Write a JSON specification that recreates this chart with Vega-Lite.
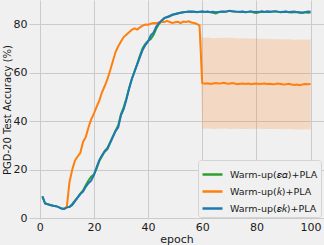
{
  "$schema": "https://vega.github.io/schema/vega-lite/v6.json",
  "width": 295,
  "height": 219,
  "autosize": {"type": "none"},
  "padding": {"left": 29, "top": 0, "right": 0, "bottom": 26},
  "background": "#f0f0f0",
  "config": {
    "view": {"stroke": null, "fill": "#f0f0f0"},
    "font": "DejaVu Sans",
    "axis": {
      "domain": false,
      "ticks": false,
      "grid": true,
      "gridColor": "#cbcbcb",
      "gridWidth": 1,
      "labelFontSize": 11,
      "labelColor": "#1a1a1a",
      "titleFontSize": 11,
      "titleFontWeight": "normal",
      "titleColor": "#1a1a1a"
    }
  },
  "datasets": {
    "lines": [
      {"epoch":1,"series":"Warm-up(𝜀𝛼)+PLA","acc":9.0},{"epoch":2,"series":"Warm-up(𝜀𝛼)+PLA","acc":6.0},{"epoch":3,"series":"Warm-up(𝜀𝛼)+PLA","acc":5.8},{"epoch":4,"series":"Warm-up(𝜀𝛼)+PLA","acc":5.4},{"epoch":5,"series":"Warm-up(𝜀𝛼)+PLA","acc":5.2},{"epoch":6,"series":"Warm-up(𝜀𝛼)+PLA","acc":5.0},{"epoch":7,"series":"Warm-up(𝜀𝛼)+PLA","acc":4.6},{"epoch":8,"series":"Warm-up(𝜀𝛼)+PLA","acc":4.0},{"epoch":9,"series":"Warm-up(𝜀𝛼)+PLA","acc":3.9},{"epoch":10,"series":"Warm-up(𝜀𝛼)+PLA","acc":4.6},{"epoch":11,"series":"Warm-up(𝜀𝛼)+PLA","acc":4.8},{"epoch":12,"series":"Warm-up(𝜀𝛼)+PLA","acc":5.8},{"epoch":13,"series":"Warm-up(𝜀𝛼)+PLA","acc":7.3},{"epoch":14,"series":"Warm-up(𝜀𝛼)+PLA","acc":8.6},{"epoch":15,"series":"Warm-up(𝜀𝛼)+PLA","acc":10.2},{"epoch":16,"series":"Warm-up(𝜀𝛼)+PLA","acc":11.5},{"epoch":17,"series":"Warm-up(𝜀𝛼)+PLA","acc":13.6},{"epoch":18,"series":"Warm-up(𝜀𝛼)+PLA","acc":15.6},{"epoch":19,"series":"Warm-up(𝜀𝛼)+PLA","acc":17.2},{"epoch":20,"series":"Warm-up(𝜀𝛼)+PLA","acc":18.0},{"epoch":21,"series":"Warm-up(𝜀𝛼)+PLA","acc":20.5},{"epoch":22,"series":"Warm-up(𝜀𝛼)+PLA","acc":23.6},{"epoch":23,"series":"Warm-up(𝜀𝛼)+PLA","acc":25.6},{"epoch":24,"series":"Warm-up(𝜀𝛼)+PLA","acc":27.8},{"epoch":25,"series":"Warm-up(𝜀𝛼)+PLA","acc":29.0},{"epoch":26,"series":"Warm-up(𝜀𝛼)+PLA","acc":31.4},{"epoch":27,"series":"Warm-up(𝜀𝛼)+PLA","acc":33.8},{"epoch":28,"series":"Warm-up(𝜀𝛼)+PLA","acc":36.2},{"epoch":29,"series":"Warm-up(𝜀𝛼)+PLA","acc":38.4},{"epoch":30,"series":"Warm-up(𝜀𝛼)+PLA","acc":43.0},{"epoch":31,"series":"Warm-up(𝜀𝛼)+PLA","acc":45.8},{"epoch":32,"series":"Warm-up(𝜀𝛼)+PLA","acc":49.4},{"epoch":33,"series":"Warm-up(𝜀𝛼)+PLA","acc":53.8},{"epoch":34,"series":"Warm-up(𝜀𝛼)+PLA","acc":57.4},{"epoch":35,"series":"Warm-up(𝜀𝛼)+PLA","acc":60.6},{"epoch":36,"series":"Warm-up(𝜀𝛼)+PLA","acc":63.8},{"epoch":37,"series":"Warm-up(𝜀𝛼)+PLA","acc":67.2},{"epoch":38,"series":"Warm-up(𝜀𝛼)+PLA","acc":70.2},{"epoch":39,"series":"Warm-up(𝜀𝛼)+PLA","acc":72.0},{"epoch":40,"series":"Warm-up(𝜀𝛼)+PLA","acc":73.2},{"epoch":41,"series":"Warm-up(𝜀𝛼)+PLA","acc":74.0},{"epoch":42,"series":"Warm-up(𝜀𝛼)+PLA","acc":75.6},{"epoch":43,"series":"Warm-up(𝜀𝛼)+PLA","acc":78.2},{"epoch":44,"series":"Warm-up(𝜀𝛼)+PLA","acc":80.2},{"epoch":45,"series":"Warm-up(𝜀𝛼)+PLA","acc":81.4},{"epoch":46,"series":"Warm-up(𝜀𝛼)+PLA","acc":82.6},{"epoch":47,"series":"Warm-up(𝜀𝛼)+PLA","acc":83.0},{"epoch":48,"series":"Warm-up(𝜀𝛼)+PLA","acc":83.4},{"epoch":49,"series":"Warm-up(𝜀𝛼)+PLA","acc":84.0},{"epoch":50,"series":"Warm-up(𝜀𝛼)+PLA","acc":84.2},{"epoch":51,"series":"Warm-up(𝜀𝛼)+PLA","acc":84.5},{"epoch":52,"series":"Warm-up(𝜀𝛼)+PLA","acc":84.8},{"epoch":53,"series":"Warm-up(𝜀𝛼)+PLA","acc":85.0},{"epoch":54,"series":"Warm-up(𝜀𝛼)+PLA","acc":85.1},{"epoch":55,"series":"Warm-up(𝜀𝛼)+PLA","acc":85.2},{"epoch":56,"series":"Warm-up(𝜀𝛼)+PLA","acc":85.3},{"epoch":57,"series":"Warm-up(𝜀𝛼)+PLA","acc":85.2},{"epoch":58,"series":"Warm-up(𝜀𝛼)+PLA","acc":85.0},{"epoch":59,"series":"Warm-up(𝜀𝛼)+PLA","acc":85.2},{"epoch":60,"series":"Warm-up(𝜀𝛼)+PLA","acc":85.3},{"epoch":61,"series":"Warm-up(𝜀𝛼)+PLA","acc":85.1},{"epoch":62,"series":"Warm-up(𝜀𝛼)+PLA","acc":85.2},{"epoch":63,"series":"Warm-up(𝜀𝛼)+PLA","acc":85.0},{"epoch":64,"series":"Warm-up(𝜀𝛼)+PLA","acc":84.8},{"epoch":65,"series":"Warm-up(𝜀𝛼)+PLA","acc":84.5},{"epoch":66,"series":"Warm-up(𝜀𝛼)+PLA","acc":85.0},{"epoch":67,"series":"Warm-up(𝜀𝛼)+PLA","acc":85.2},{"epoch":68,"series":"Warm-up(𝜀𝛼)+PLA","acc":85.4},{"epoch":69,"series":"Warm-up(𝜀𝛼)+PLA","acc":85.3},{"epoch":70,"series":"Warm-up(𝜀𝛼)+PLA","acc":85.6},{"epoch":71,"series":"Warm-up(𝜀𝛼)+PLA","acc":85.5},{"epoch":72,"series":"Warm-up(𝜀𝛼)+PLA","acc":85.3},{"epoch":73,"series":"Warm-up(𝜀𝛼)+PLA","acc":85.2},{"epoch":74,"series":"Warm-up(𝜀𝛼)+PLA","acc":85.1},{"epoch":75,"series":"Warm-up(𝜀𝛼)+PLA","acc":85.2},{"epoch":76,"series":"Warm-up(𝜀𝛼)+PLA","acc":85.0},{"epoch":77,"series":"Warm-up(𝜀𝛼)+PLA","acc":85.2},{"epoch":78,"series":"Warm-up(𝜀𝛼)+PLA","acc":85.3},{"epoch":79,"series":"Warm-up(𝜀𝛼)+PLA","acc":84.9},{"epoch":80,"series":"Warm-up(𝜀𝛼)+PLA","acc":84.7},{"epoch":81,"series":"Warm-up(𝜀𝛼)+PLA","acc":85.0},{"epoch":82,"series":"Warm-up(𝜀𝛼)+PLA","acc":85.2},{"epoch":83,"series":"Warm-up(𝜀𝛼)+PLA","acc":85.1},{"epoch":84,"series":"Warm-up(𝜀𝛼)+PLA","acc":85.3},{"epoch":85,"series":"Warm-up(𝜀𝛼)+PLA","acc":85.2},{"epoch":86,"series":"Warm-up(𝜀𝛼)+PLA","acc":85.4},{"epoch":87,"series":"Warm-up(𝜀𝛼)+PLA","acc":85.5},{"epoch":88,"series":"Warm-up(𝜀𝛼)+PLA","acc":85.2},{"epoch":89,"series":"Warm-up(𝜀𝛼)+PLA","acc":85.0},{"epoch":90,"series":"Warm-up(𝜀𝛼)+PLA","acc":85.1},{"epoch":91,"series":"Warm-up(𝜀𝛼)+PLA","acc":85.2},{"epoch":92,"series":"Warm-up(𝜀𝛼)+PLA","acc":85.0},{"epoch":93,"series":"Warm-up(𝜀𝛼)+PLA","acc":84.9},{"epoch":94,"series":"Warm-up(𝜀𝛼)+PLA","acc":85.1},{"epoch":95,"series":"Warm-up(𝜀𝛼)+PLA","acc":85.0},{"epoch":96,"series":"Warm-up(𝜀𝛼)+PLA","acc":84.8},{"epoch":97,"series":"Warm-up(𝜀𝛼)+PLA","acc":84.7},{"epoch":98,"series":"Warm-up(𝜀𝛼)+PLA","acc":85.0},{"epoch":99,"series":"Warm-up(𝜀𝛼)+PLA","acc":84.8},{"epoch":100,"series":"Warm-up(𝜀𝛼)+PLA","acc":84.9},

      {"epoch":9,"series":"Warm-up(𝑘)+PLA","acc":3.9},{"epoch":10,"series":"Warm-up(𝑘)+PLA","acc":4.6},{"epoch":11,"series":"Warm-up(𝑘)+PLA","acc":15.0},{"epoch":12,"series":"Warm-up(𝑘)+PLA","acc":20.0},{"epoch":13,"series":"Warm-up(𝑘)+PLA","acc":23.8},{"epoch":14,"series":"Warm-up(𝑘)+PLA","acc":25.5},{"epoch":15,"series":"Warm-up(𝑘)+PLA","acc":27.0},{"epoch":16,"series":"Warm-up(𝑘)+PLA","acc":31.5},{"epoch":17,"series":"Warm-up(𝑘)+PLA","acc":33.5},{"epoch":18,"series":"Warm-up(𝑘)+PLA","acc":37.5},{"epoch":19,"series":"Warm-up(𝑘)+PLA","acc":40.8},{"epoch":20,"series":"Warm-up(𝑘)+PLA","acc":43.2},{"epoch":21,"series":"Warm-up(𝑘)+PLA","acc":46.0},{"epoch":22,"series":"Warm-up(𝑘)+PLA","acc":48.6},{"epoch":23,"series":"Warm-up(𝑘)+PLA","acc":52.0},{"epoch":24,"series":"Warm-up(𝑘)+PLA","acc":54.6},{"epoch":25,"series":"Warm-up(𝑘)+PLA","acc":57.4},{"epoch":26,"series":"Warm-up(𝑘)+PLA","acc":61.0},{"epoch":27,"series":"Warm-up(𝑘)+PLA","acc":64.8},{"epoch":28,"series":"Warm-up(𝑘)+PLA","acc":68.6},{"epoch":29,"series":"Warm-up(𝑘)+PLA","acc":71.0},{"epoch":30,"series":"Warm-up(𝑘)+PLA","acc":73.0},{"epoch":31,"series":"Warm-up(𝑘)+PLA","acc":74.8},{"epoch":32,"series":"Warm-up(𝑘)+PLA","acc":75.8},{"epoch":33,"series":"Warm-up(𝑘)+PLA","acc":76.8},{"epoch":34,"series":"Warm-up(𝑘)+PLA","acc":77.8},{"epoch":35,"series":"Warm-up(𝑘)+PLA","acc":78.4},{"epoch":36,"series":"Warm-up(𝑘)+PLA","acc":77.9},{"epoch":37,"series":"Warm-up(𝑘)+PLA","acc":78.8},{"epoch":38,"series":"Warm-up(𝑘)+PLA","acc":79.5},{"epoch":39,"series":"Warm-up(𝑘)+PLA","acc":80.0},{"epoch":40,"series":"Warm-up(𝑘)+PLA","acc":79.9},{"epoch":41,"series":"Warm-up(𝑘)+PLA","acc":80.3},{"epoch":42,"series":"Warm-up(𝑘)+PLA","acc":80.6},{"epoch":43,"series":"Warm-up(𝑘)+PLA","acc":80.5},{"epoch":44,"series":"Warm-up(𝑘)+PLA","acc":80.8},{"epoch":45,"series":"Warm-up(𝑘)+PLA","acc":81.0},{"epoch":46,"series":"Warm-up(𝑘)+PLA","acc":81.0},{"epoch":47,"series":"Warm-up(𝑘)+PLA","acc":81.5},{"epoch":48,"series":"Warm-up(𝑘)+PLA","acc":81.0},{"epoch":49,"series":"Warm-up(𝑘)+PLA","acc":80.6},{"epoch":50,"series":"Warm-up(𝑘)+PLA","acc":80.9},{"epoch":51,"series":"Warm-up(𝑘)+PLA","acc":81.1},{"epoch":52,"series":"Warm-up(𝑘)+PLA","acc":80.6},{"epoch":53,"series":"Warm-up(𝑘)+PLA","acc":81.2},{"epoch":54,"series":"Warm-up(𝑘)+PLA","acc":81.0},{"epoch":55,"series":"Warm-up(𝑘)+PLA","acc":81.3},{"epoch":56,"series":"Warm-up(𝑘)+PLA","acc":80.8},{"epoch":57,"series":"Warm-up(𝑘)+PLA","acc":80.6},{"epoch":58,"series":"Warm-up(𝑘)+PLA","acc":80.2},{"epoch":59,"series":"Warm-up(𝑘)+PLA","acc":79.5},{"epoch":60,"series":"Warm-up(𝑘)+PLA","acc":55.8},{"epoch":61,"series":"Warm-up(𝑘)+PLA","acc":55.5},{"epoch":62,"series":"Warm-up(𝑘)+PLA","acc":55.7},{"epoch":63,"series":"Warm-up(𝑘)+PLA","acc":55.4},{"epoch":64,"series":"Warm-up(𝑘)+PLA","acc":55.6},{"epoch":65,"series":"Warm-up(𝑘)+PLA","acc":55.8},{"epoch":66,"series":"Warm-up(𝑘)+PLA","acc":55.6},{"epoch":67,"series":"Warm-up(𝑘)+PLA","acc":55.7},{"epoch":68,"series":"Warm-up(𝑘)+PLA","acc":55.9},{"epoch":69,"series":"Warm-up(𝑘)+PLA","acc":55.6},{"epoch":70,"series":"Warm-up(𝑘)+PLA","acc":55.5},{"epoch":71,"series":"Warm-up(𝑘)+PLA","acc":55.8},{"epoch":72,"series":"Warm-up(𝑘)+PLA","acc":55.6},{"epoch":73,"series":"Warm-up(𝑘)+PLA","acc":55.3},{"epoch":74,"series":"Warm-up(𝑘)+PLA","acc":55.5},{"epoch":75,"series":"Warm-up(𝑘)+PLA","acc":55.6},{"epoch":76,"series":"Warm-up(𝑘)+PLA","acc":55.4},{"epoch":77,"series":"Warm-up(𝑘)+PLA","acc":55.6},{"epoch":78,"series":"Warm-up(𝑘)+PLA","acc":55.3},{"epoch":79,"series":"Warm-up(𝑘)+PLA","acc":55.5},{"epoch":80,"series":"Warm-up(𝑘)+PLA","acc":55.6},{"epoch":81,"series":"Warm-up(𝑘)+PLA","acc":55.4},{"epoch":82,"series":"Warm-up(𝑘)+PLA","acc":55.5},{"epoch":83,"series":"Warm-up(𝑘)+PLA","acc":55.6},{"epoch":84,"series":"Warm-up(𝑘)+PLA","acc":55.4},{"epoch":85,"series":"Warm-up(𝑘)+PLA","acc":55.5},{"epoch":86,"series":"Warm-up(𝑘)+PLA","acc":55.3},{"epoch":87,"series":"Warm-up(𝑘)+PLA","acc":55.4},{"epoch":88,"series":"Warm-up(𝑘)+PLA","acc":55.6},{"epoch":89,"series":"Warm-up(𝑘)+PLA","acc":55.4},{"epoch":90,"series":"Warm-up(𝑘)+PLA","acc":55.2},{"epoch":91,"series":"Warm-up(𝑘)+PLA","acc":55.3},{"epoch":92,"series":"Warm-up(𝑘)+PLA","acc":55.5},{"epoch":93,"series":"Warm-up(𝑘)+PLA","acc":55.2},{"epoch":94,"series":"Warm-up(𝑘)+PLA","acc":55.0},{"epoch":95,"series":"Warm-up(𝑘)+PLA","acc":55.2},{"epoch":96,"series":"Warm-up(𝑘)+PLA","acc":54.9},{"epoch":97,"series":"Warm-up(𝑘)+PLA","acc":55.2},{"epoch":98,"series":"Warm-up(𝑘)+PLA","acc":55.4},{"epoch":99,"series":"Warm-up(𝑘)+PLA","acc":55.3},{"epoch":100,"series":"Warm-up(𝑘)+PLA","acc":55.4},

      {"epoch":1,"series":"Warm-up(𝜀𝑘)+PLA","acc":9.0},{"epoch":2,"series":"Warm-up(𝜀𝑘)+PLA","acc":6.2},{"epoch":3,"series":"Warm-up(𝜀𝑘)+PLA","acc":5.8},{"epoch":4,"series":"Warm-up(𝜀𝑘)+PLA","acc":5.5},{"epoch":5,"series":"Warm-up(𝜀𝑘)+PLA","acc":5.2},{"epoch":6,"series":"Warm-up(𝜀𝑘)+PLA","acc":5.0},{"epoch":7,"series":"Warm-up(𝜀𝑘)+PLA","acc":4.6},{"epoch":8,"series":"Warm-up(𝜀𝑘)+PLA","acc":4.0},{"epoch":9,"series":"Warm-up(𝜀𝑘)+PLA","acc":3.8},{"epoch":10,"series":"Warm-up(𝜀𝑘)+PLA","acc":4.5},{"epoch":11,"series":"Warm-up(𝜀𝑘)+PLA","acc":4.6},{"epoch":12,"series":"Warm-up(𝜀𝑘)+PLA","acc":5.5},{"epoch":13,"series":"Warm-up(𝜀𝑘)+PLA","acc":7.0},{"epoch":14,"series":"Warm-up(𝜀𝑘)+PLA","acc":8.5},{"epoch":15,"series":"Warm-up(𝜀𝑘)+PLA","acc":10.0},{"epoch":16,"series":"Warm-up(𝜀𝑘)+PLA","acc":11.0},{"epoch":17,"series":"Warm-up(𝜀𝑘)+PLA","acc":13.0},{"epoch":18,"series":"Warm-up(𝜀𝑘)+PLA","acc":14.5},{"epoch":19,"series":"Warm-up(𝜀𝑘)+PLA","acc":15.5},{"epoch":20,"series":"Warm-up(𝜀𝑘)+PLA","acc":17.8},{"epoch":21,"series":"Warm-up(𝜀𝑘)+PLA","acc":21.0},{"epoch":22,"series":"Warm-up(𝜀𝑘)+PLA","acc":24.0},{"epoch":23,"series":"Warm-up(𝜀𝑘)+PLA","acc":26.0},{"epoch":24,"series":"Warm-up(𝜀𝑘)+PLA","acc":27.5},{"epoch":25,"series":"Warm-up(𝜀𝑘)+PLA","acc":28.5},{"epoch":26,"series":"Warm-up(𝜀𝑘)+PLA","acc":31.0},{"epoch":27,"series":"Warm-up(𝜀𝑘)+PLA","acc":33.5},{"epoch":28,"series":"Warm-up(𝜀𝑘)+PLA","acc":36.0},{"epoch":29,"series":"Warm-up(𝜀𝑘)+PLA","acc":37.5},{"epoch":30,"series":"Warm-up(𝜀𝑘)+PLA","acc":42.5},{"epoch":31,"series":"Warm-up(𝜀𝑘)+PLA","acc":45.0},{"epoch":32,"series":"Warm-up(𝜀𝑘)+PLA","acc":49.0},{"epoch":33,"series":"Warm-up(𝜀𝑘)+PLA","acc":53.5},{"epoch":34,"series":"Warm-up(𝜀𝑘)+PLA","acc":57.5},{"epoch":35,"series":"Warm-up(𝜀𝑘)+PLA","acc":60.5},{"epoch":36,"series":"Warm-up(𝜀𝑘)+PLA","acc":63.5},{"epoch":37,"series":"Warm-up(𝜀𝑘)+PLA","acc":66.5},{"epoch":38,"series":"Warm-up(𝜀𝑘)+PLA","acc":69.5},{"epoch":39,"series":"Warm-up(𝜀𝑘)+PLA","acc":71.5},{"epoch":40,"series":"Warm-up(𝜀𝑘)+PLA","acc":73.0},{"epoch":41,"series":"Warm-up(𝜀𝑘)+PLA","acc":75.5},{"epoch":42,"series":"Warm-up(𝜀𝑘)+PLA","acc":76.6},{"epoch":43,"series":"Warm-up(𝜀𝑘)+PLA","acc":79.0},{"epoch":44,"series":"Warm-up(𝜀𝑘)+PLA","acc":80.5},{"epoch":45,"series":"Warm-up(𝜀𝑘)+PLA","acc":81.6},{"epoch":46,"series":"Warm-up(𝜀𝑘)+PLA","acc":82.6},{"epoch":47,"series":"Warm-up(𝜀𝑘)+PLA","acc":83.1},{"epoch":48,"series":"Warm-up(𝜀𝑘)+PLA","acc":83.5},{"epoch":49,"series":"Warm-up(𝜀𝑘)+PLA","acc":84.0},{"epoch":50,"series":"Warm-up(𝜀𝑘)+PLA","acc":84.3},{"epoch":51,"series":"Warm-up(𝜀𝑘)+PLA","acc":84.6},{"epoch":52,"series":"Warm-up(𝜀𝑘)+PLA","acc":84.8},{"epoch":53,"series":"Warm-up(𝜀𝑘)+PLA","acc":85.0},{"epoch":54,"series":"Warm-up(𝜀𝑘)+PLA","acc":85.2},{"epoch":55,"series":"Warm-up(𝜀𝑘)+PLA","acc":85.3},{"epoch":56,"series":"Warm-up(𝜀𝑘)+PLA","acc":85.2},{"epoch":57,"series":"Warm-up(𝜀𝑘)+PLA","acc":85.3},{"epoch":58,"series":"Warm-up(𝜀𝑘)+PLA","acc":85.1},{"epoch":59,"series":"Warm-up(𝜀𝑘)+PLA","acc":85.2},{"epoch":60,"series":"Warm-up(𝜀𝑘)+PLA","acc":85.3},{"epoch":61,"series":"Warm-up(𝜀𝑘)+PLA","acc":85.2},{"epoch":62,"series":"Warm-up(𝜀𝑘)+PLA","acc":85.3},{"epoch":63,"series":"Warm-up(𝜀𝑘)+PLA","acc":85.1},{"epoch":64,"series":"Warm-up(𝜀𝑘)+PLA","acc":85.2},{"epoch":65,"series":"Warm-up(𝜀𝑘)+PLA","acc":85.0},{"epoch":66,"series":"Warm-up(𝜀𝑘)+PLA","acc":85.2},{"epoch":67,"series":"Warm-up(𝜀𝑘)+PLA","acc":85.3},{"epoch":68,"series":"Warm-up(𝜀𝑘)+PLA","acc":85.2},{"epoch":69,"series":"Warm-up(𝜀𝑘)+PLA","acc":85.4},{"epoch":70,"series":"Warm-up(𝜀𝑘)+PLA","acc":85.7},{"epoch":71,"series":"Warm-up(𝜀𝑘)+PLA","acc":85.5},{"epoch":72,"series":"Warm-up(𝜀𝑘)+PLA","acc":85.4},{"epoch":73,"series":"Warm-up(𝜀𝑘)+PLA","acc":85.3},{"epoch":74,"series":"Warm-up(𝜀𝑘)+PLA","acc":85.2},{"epoch":75,"series":"Warm-up(𝜀𝑘)+PLA","acc":85.3},{"epoch":76,"series":"Warm-up(𝜀𝑘)+PLA","acc":85.1},{"epoch":77,"series":"Warm-up(𝜀𝑘)+PLA","acc":85.3},{"epoch":78,"series":"Warm-up(𝜀𝑘)+PLA","acc":85.4},{"epoch":79,"series":"Warm-up(𝜀𝑘)+PLA","acc":85.2},{"epoch":80,"series":"Warm-up(𝜀𝑘)+PLA","acc":85.1},{"epoch":81,"series":"Warm-up(𝜀𝑘)+PLA","acc":85.2},{"epoch":82,"series":"Warm-up(𝜀𝑘)+PLA","acc":85.4},{"epoch":83,"series":"Warm-up(𝜀𝑘)+PLA","acc":85.2},{"epoch":84,"series":"Warm-up(𝜀𝑘)+PLA","acc":85.3},{"epoch":85,"series":"Warm-up(𝜀𝑘)+PLA","acc":85.2},{"epoch":86,"series":"Warm-up(𝜀𝑘)+PLA","acc":85.3},{"epoch":87,"series":"Warm-up(𝜀𝑘)+PLA","acc":85.4},{"epoch":88,"series":"Warm-up(𝜀𝑘)+PLA","acc":85.3},{"epoch":89,"series":"Warm-up(𝜀𝑘)+PLA","acc":85.1},{"epoch":90,"series":"Warm-up(𝜀𝑘)+PLA","acc":85.2},{"epoch":91,"series":"Warm-up(𝜀𝑘)+PLA","acc":85.3},{"epoch":92,"series":"Warm-up(𝜀𝑘)+PLA","acc":85.1},{"epoch":93,"series":"Warm-up(𝜀𝑘)+PLA","acc":85.2},{"epoch":94,"series":"Warm-up(𝜀𝑘)+PLA","acc":85.3},{"epoch":95,"series":"Warm-up(𝜀𝑘)+PLA","acc":85.1},{"epoch":96,"series":"Warm-up(𝜀𝑘)+PLA","acc":85.0},{"epoch":97,"series":"Warm-up(𝜀𝑘)+PLA","acc":84.9},{"epoch":98,"series":"Warm-up(𝜀𝑘)+PLA","acc":85.1},{"epoch":99,"series":"Warm-up(𝜀𝑘)+PLA","acc":85.3},{"epoch":100,"series":"Warm-up(𝜀𝑘)+PLA","acc":85.2}
    ],
    "band": [
      {"epoch":59,"lo":79.5,"hi":79.5},{"epoch":60,"lo":37.0,"hi":74.4},{"epoch":62,"lo":37.1,"hi":74.6},{"epoch":64,"lo":36.9,"hi":74.3},{"epoch":66,"lo":37.0,"hi":74.5},{"epoch":68,"lo":37.1,"hi":74.4},{"epoch":70,"lo":36.9,"hi":74.6},{"epoch":72,"lo":37.0,"hi":74.3},{"epoch":74,"lo":36.9,"hi":74.2},{"epoch":76,"lo":36.8,"hi":74.3},{"epoch":78,"lo":36.9,"hi":74.1},{"epoch":80,"lo":37.0,"hi":74.2},{"epoch":82,"lo":36.9,"hi":74.0},{"epoch":84,"lo":36.8,"hi":74.1},{"epoch":86,"lo":36.9,"hi":73.9},{"epoch":88,"lo":36.8,"hi":74.0},{"epoch":90,"lo":36.7,"hi":73.8},{"epoch":92,"lo":36.8,"hi":73.9},{"epoch":94,"lo":36.7,"hi":73.7},{"epoch":96,"lo":36.6,"hi":73.8},{"epoch":98,"lo":36.7,"hi":73.7},{"epoch":100,"lo":36.6,"hi":73.8}
    ]
  },
  "layer": [
    {
      "data": {"name": "band"},
      "mark": {"type": "area", "color": "#ff7f0e", "opacity": 0.2},
      "encoding": {
        "x": {"field": "epoch", "type": "quantitative"},
        "y": {"field": "lo", "type": "quantitative"},
        "y2": {"field": "hi"}
      }
    },
    {
      "data": {"name": "lines"},
      "mark": {"type": "line", "strokeWidth": 2},
      "encoding": {
        "x": {
          "field": "epoch",
          "type": "quantitative",
          "scale": {"domain": [-3.95, 104.95], "nice": false, "zero": false},
          "axis": {"values": [0, 20, 40, 60, 80, 100], "title": "epoch", "labelPadding": 2, "titlePadding": 1}
        },
        "y": {
          "field": "acc",
          "type": "quantitative",
          "scale": {"domain": [-0.3, 90.1], "nice": false, "zero": false},
          "axis": {"values": [0, 20, 40, 60, 80], "title": "PGD-20 Test Accuracy (%)", "titleFontSize": 10, "labelPadding": 2, "titlePadding": 1}
        },
        "color": {
          "field": "series",
          "type": "nominal",
          "scale": {
            "domain": ["Warm-up(𝜀𝛼)+PLA", "Warm-up(𝑘)+PLA", "Warm-up(𝜀𝑘)+PLA"],
            "range": ["#2ca02c", "#ff7f0e", "#1f77b4"]
          },
          "legend": {
            "title": null,
            "orient": "none",
            "legendX": 169,
            "legendY": 160,
            "fillColor": "#f0f0f0",
            "strokeColor": "#d4d4d4",
            "cornerRadius": 3,
            "padding": 3,
            "labelFontSize": 9.5,
            "labelColor": "#1a1a1a",
            "symbolType": "stroke",
            "symbolSize": 400,
            "symbolStrokeWidth": 2.5,
            "rowPadding": -5.5,
            "labelOffset": 6
          }
        }
      }
    }
  ]
}
